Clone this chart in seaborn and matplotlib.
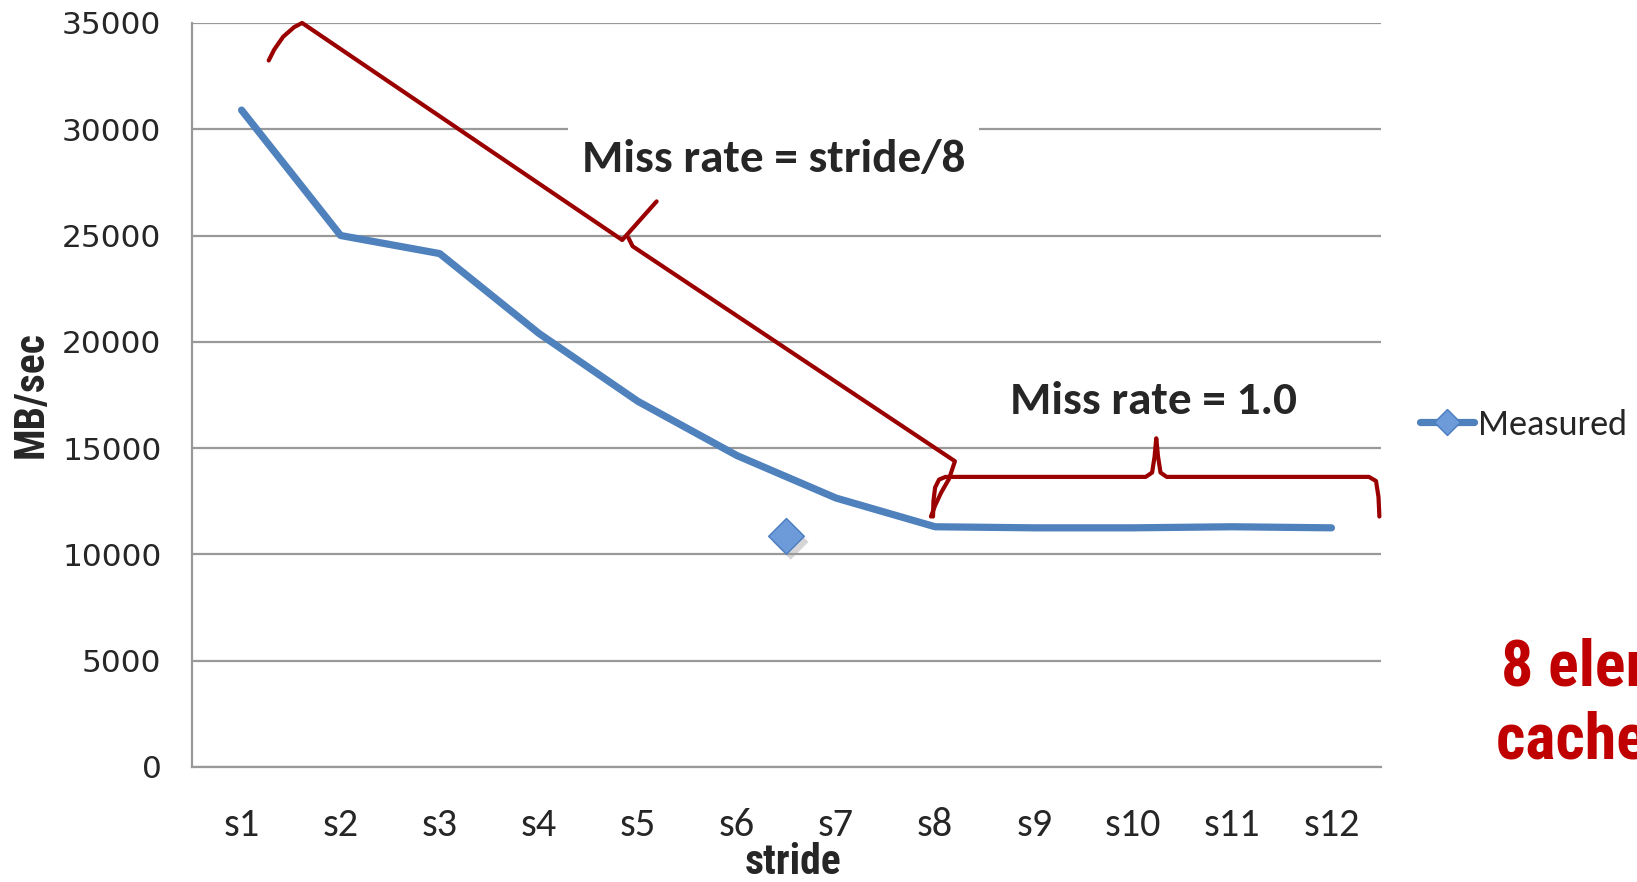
import numpy as np
import pandas as pd
import matplotlib
matplotlib.use('Agg')
import matplotlib.pyplot as plt
import matplotlib.patheffects as pe
from matplotlib import font_manager
from matplotlib.lines import Line2D
import seaborn as sns

# data
strides = ['s1', 's2', 's3', 's4', 's5', 's6', 's7', 's8', 's9', 's10', 's11', 's12']
measured = [30900, 25000, 24150, 20400, 17200, 14650, 12650, 11300, 11250, 11250, 11300, 11250]
stray_x = [5.5]
stray_y = [10850]

# bracket outlines (x in category index, y in MB/sec)
brace_a_x = [0.274, 0.33, 0.42, 0.53, 0.611, 3.842, 4.189]
brace_a_y = [33232, 33750, 34350, 34800, 35000, 24789, 26605]
brace_b_x = [3.905, 3.947, 7.2, 7.14, 7.06, 7.0, 6.958]
brace_b_y = [24887, 24494, 14383, 13550, 12900, 12300, 11781]
brace_c_x = [6.979, 6.983, 7.0, 7.04, 7.105, 9.126, 9.19, 9.215, 9.232, 9.25, 9.275, 9.337, 11.379, 11.45, 11.475, 11.484]
brace_c_y = [11781, 12500, 13150, 13520, 13646, 13646, 13850, 14600, 15462, 14600, 13850, 13646, 13646, 13450, 12700, 11781]

names = {f.name for f in font_manager.fontManager.ttflist}
narrow = 'Liberation Sans'
for cand in ['Roboto Condensed', 'Liberation Sans Narrow', 'Arial Narrow']:
    if cand in names:
        narrow = cand
        break
body = 'Carlito' if 'Carlito' in names else 'Lato'

sns.set_theme(style='white')
plt.rcParams['font.family'] = ['DejaVu Sans']

df = pd.DataFrame({'x': np.arange(len(strides)), 'MB/sec': measured})

fig = plt.figure(figsize=(16.37, 8.82), dpi=100)
ax = fig.add_axes([0.1173, 0.1304, 0.8436 - 0.1173, 0.974 - 0.1304])

blue = '#4F81BD'
red = '#9B0000'

sns.lineplot(data=df, x='x', y='MB/sec', ax=ax, color=blue, linewidth=5.2,
             solid_capstyle='round', zorder=4)
sns.scatterplot(x=stray_x, y=stray_y, ax=ax, marker='D', s=330, color='#6D9BD9',
                edgecolor='#4A7CC0', linewidth=1, zorder=5,
                path_effects=[pe.SimplePatchShadow(offset=(3, -4), shadow_rgbFace='#999999', alpha=0.4),
                              pe.Normal()])

for bx, by in [(brace_a_x, brace_a_y), (brace_b_x, brace_b_y), (brace_c_x, brace_c_y)]:
    ax.plot(bx, by, color=red, linewidth=3, solid_joinstyle='round', solid_capstyle='round',
            clip_on=False, zorder=6)

ax.set_xlim(-0.5, 11.5)
ax.set_ylim(0, 35000)
ax.set_yticks(range(0, 35001, 5000))
ax.set_xticks(range(len(strides)))
ax.set_xticklabels(strides, fontsize=29, family=body)
ax.tick_params(axis='y', labelsize=22.5, length=0, pad=22)
ax.tick_params(axis='x', length=0, pad=29)
ax.yaxis.grid(True, color='#999999', linewidth=1.6)
ax.xaxis.grid(False)
for side in ['top', 'right']:
    ax.spines[side].set_visible(False)
for side in ['left', 'bottom']:
    ax.spines[side].set_color('#999999')
    ax.spines[side].set_linewidth(1.6)

ax.set_xlabel('stride', fontsize=30, fontweight='bold', family=narrow)
ax.set_ylabel('MB/sec', fontsize=30, fontweight='bold', family=narrow)
ax.xaxis.label.set_va('center')
ax.yaxis.label.set_va('center')
ax.xaxis.set_label_coords(0.5055, -0.128)
ax.yaxis.set_label_coords(-0.1354, 0.50)

ax.text(5.37, 28618, 'Miss rate = stride/8', fontsize=34, fontweight='bold', family=body,
        ha='center', va='center', zorder=5,
        bbox=dict(facecolor='white', edgecolor='none', pad=10))
ax.text(9.2, 17230, 'Miss rate = 1.0', fontsize=34, fontweight='bold', family=body,
        ha='center', va='center', zorder=5)

handle = Line2D([], [], color=blue, linewidth=5.2, marker='D', markersize=13,
                markerfacecolor='#6D9BD9', markeredgecolor='#4A7CC0', solid_capstyle='round')
fig.legend(handles=[handle], labels=['Measured'], loc='center left',
           bbox_to_anchor=(1420 / 1637, 1 - 425 / 882), frameon=False,
           prop={'family': body, 'size': 26}, handlelength=1.5, handletextpad=0.1,
           borderpad=0, borderaxespad=0)

fig.text(1501 / 1637, 1 - 668 / 882, '8 elements', color='#C00000', fontsize=46,
         fontweight='bold', family=narrow, ha='left', va='center')
fig.text(1496 / 1637, 1 - 741 / 882, 'cache block', color='#C00000', fontsize=46,
         fontweight='bold', family=narrow, ha='left', va='center')

fig.savefig('out.png', dpi=100)
